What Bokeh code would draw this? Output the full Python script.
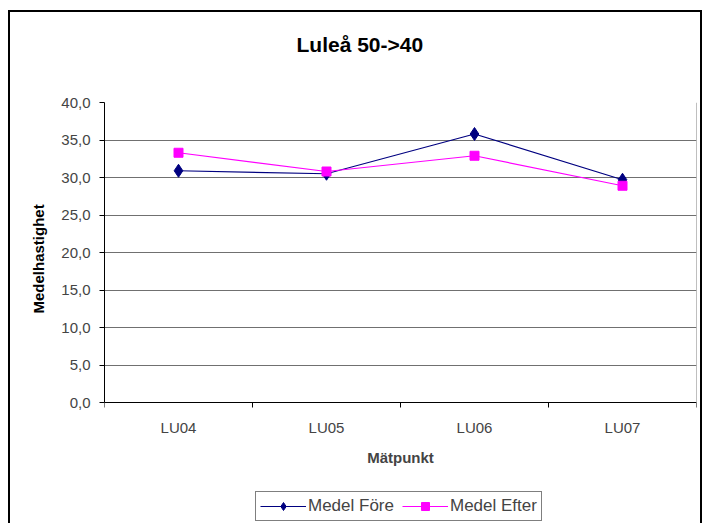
from bokeh.plotting import figure
from bokeh.models import FixedTicker, Legend, LegendItem, Title, LinearAxis
from bokeh.embed import file_html
from bokeh.resources import INLINE

categories = ["LU04", "LU05", "LU06", "LU07"]
medel_fore = [30.9, 30.5, 35.8, 29.7]
medel_efter = [33.3, 30.8, 32.9, 28.9]
y_ticks = [0, 5, 10, 15, 20, 25, 30, 35, 40]

FONT = "Liberation Sans"
xs = list(range(1, len(categories) + 1))
y_min, y_max = y_ticks[0], y_ticks[-1]

# frame extends below 0 to leave room for the category axis and the legend
p = figure(frame_width=592, frame_height=420, output_backend="svg", toolbar_location=None,
           x_range=(0.5, len(categories) + 0.5), y_range=(-16, y_max),
           min_border_left=94, min_border_right=4, min_border_top=90, min_border_bottom=1)
p.styles = {"border": "2px solid black", "margin-top": "10px", "margin-left": "8px"}
p.background_fill_color = "white"
p.border_fill_color = "white"
p.outline_line_color = None

p.add_layout(Title(text=" ", text_font_size="1px", standoff=44), "above")
t = Title(text="Luleå 50->40", align="left", offset=192, standoff=0,
          text_font=FONT, text_font_size="21px", text_font_style="bold", text_color="black")
p.add_layout(t, "above")

# grid
p.xgrid.grid_line_color = None
p.ygrid.ticker = FixedTicker(ticks=y_ticks)
p.ygrid.grid_line_color = "#707070"
p.ygrid.grid_line_width = 1

# y axis
p.yaxis.ticker = FixedTicker(ticks=y_ticks)
p.yaxis.bounds = (y_min, y_max)
p.yaxis.major_label_overrides = {v: f"{v:.1f}".replace(".", ",") for v in y_ticks}
p.yaxis.major_label_text_font = FONT
p.yaxis.major_label_text_font_size = "15px"
p.yaxis.major_label_standoff = 9
p.yaxis.major_tick_out = 5
p.yaxis.major_tick_in = 0
p.yaxis.minor_tick_line_color = None
p.yaxis.axis_line_color = "black"
p.yaxis.major_tick_line_color = "black"

# y axis title, centred on the 0..40 part of the axis
ytitle = Title(text="Medelhastighet", align="left", offset=209, standoff=24,
               text_font=FONT, text_font_size="15px", text_font_style="bold", text_color="black")
p.add_layout(ytitle, "left")

# right edge of the plot area
right_edge = LinearAxis(fixed_location=len(categories) + 0.5, bounds=(y_min, y_max),
                        ticker=FixedTicker(ticks=[]), major_tick_line_color=None,
                        minor_tick_line_color=None, major_label_text_color=None,
                        axis_line_color="#808080")
p.add_layout(right_edge, "right")

# x axis at y = 0
minor = [x - 0.5 for x in xs] + [xs[-1] + 0.5]
p.xaxis.fixed_location = y_min
p.xaxis.ticker = FixedTicker(ticks=xs, minor_ticks=minor)
p.xaxis.major_label_overrides = {x: c for x, c in zip(xs, categories)}
p.xaxis.major_tick_line_color = None
p.xaxis.major_tick_out = 0
p.xaxis.major_tick_in = 0
p.xaxis.minor_tick_line_color = "black"
p.xaxis.minor_tick_out = 5
p.xaxis.minor_tick_in = 0
p.xaxis.major_label_standoff = 11
p.xaxis.major_label_text_font = FONT
p.xaxis.major_label_text_font_size = "15px"
p.xaxis.axis_label = "Mätpunkt"
p.xaxis.axis_label_text_font = FONT
p.xaxis.axis_label_text_font_size = "15px"
p.xaxis.axis_label_text_font_style = "bold"
p.xaxis.axis_label_standoff = 10
p.xaxis.axis_line_color = "black"

navy = "#000080"
mag = "#FF00FF"
l1 = p.line(xs, medel_fore, line_color=navy, line_width=1.2)
s1 = p.scatter(xs, medel_fore, marker="diamond", size=13, fill_color=navy, line_color=navy)
l2 = p.line(xs, medel_efter, line_color=mag, line_width=1.2)
s2 = p.scatter(xs, medel_efter, marker="square", size=9, fill_color=mag, line_color=mag)

legend = Legend(items=[LegendItem(label="Medel Före", renderers=[l1, s1]),
                       LegendItem(label="Medel Efter", renderers=[l2, s2])],
                orientation="horizontal", location=(151, 1),
                label_text_font=FONT, label_text_font_size="17px",
                glyph_width=46, glyph_height=20, label_standoff=2, spacing=8,
                padding=4, margin=0, border_line_color="black", border_line_width=1,
                background_fill_alpha=1)
p.add_layout(legend, "center")

open("out.html", "w").write(file_html(p, INLINE))
